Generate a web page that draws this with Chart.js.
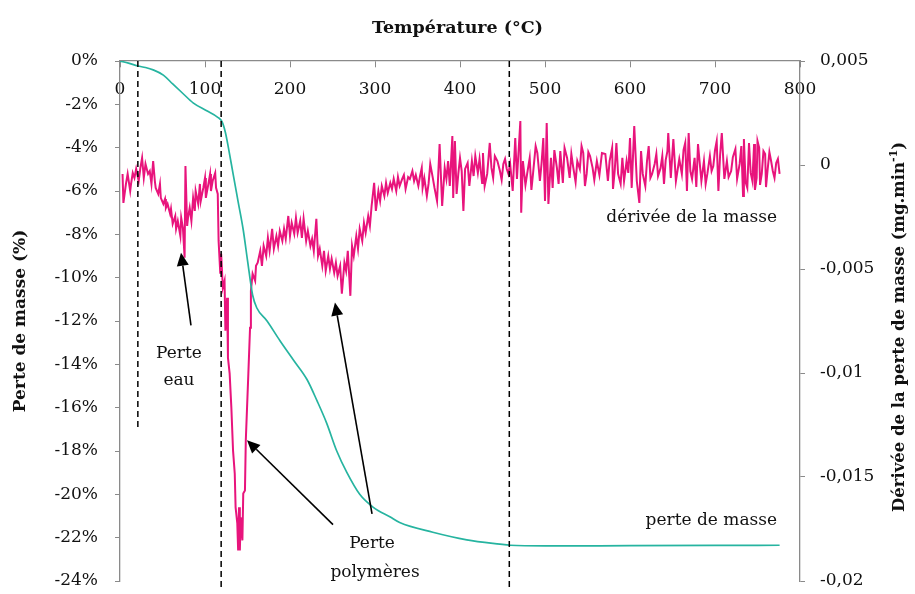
<!DOCTYPE html>
<html lang="fr">
<head>
<meta charset="utf-8">
<title>Perte de masse et dérivée</title>
<script src="https://cdn.jsdelivr.net/npm/chart.js@4.4.1/dist/chart.umd.min.js"></script>
<style>
  html, body { margin: 0; padding: 0; background: #fff; }
  #wrap { width: 915px; height: 594px; }
</style>
</head>
<body>
<div id="wrap"><canvas id="tga"></canvas></div>
<script>
// Mass loss curve (%), left axis
const massTemps = [0, 10, 21, 30, 39, 51, 62, 74, 86, 102,
  115, 120, 124, 128, 133, 139, 145, 150, 156, 161,
  173, 188, 204, 220, 232, 243, 255, 267, 282, 298,
  318, 329, 368, 408, 447, 459, 500, 600, 700, 776];
const massLoss = [0, -0.1, -0.23, -0.3, -0.41, -0.65, -1.06, -1.5, -1.93, -2.3,
  -2.6, -2.8, -3.3, -4.1, -5.2, -6.5, -7.8, -9.2, -10.8, -11.4,
  -12.0, -12.9, -13.8, -14.7, -15.7, -16.7, -18.0, -19.0, -20.0, -20.6,
  -21.05, -21.3, -21.75, -22.1, -22.3, -22.35, -22.38, -22.37, -22.36, -22.35];

// Derivative of the mass (mg/min), right axis
const derivTemps = [
  3, 4, 7, 9, 12, 13, 15, 17, 19, 22,
  24, 26, 28, 30, 33, 35, 37, 39, 41, 42,
  45, 47, 48, 51, 53, 54, 56, 59, 60, 62,
  65, 66, 68, 71, 72, 74, 76, 77, 79, 80,
  82, 84, 86, 88, 89, 92, 94, 95, 98, 100,
  101, 104, 106, 107, 109, 112, 113, 115, 116, 118,
  119, 121, 123, 124, 126, 127, 129, 131, 133, 135,
  136, 138, 139, 140, 141, 142, 144, 145, 147, 148,
  151, 153, 154, 156, 159, 160,
  162, 165, 167, 169, 172, 174, 176, 179, 181, 184,
  186, 188, 191, 193, 195, 198, 200, 202, 205, 207,
  209, 212, 214, 216, 219, 221, 224, 226, 228, 231,
  233, 235, 238, 240, 242, 245, 247, 249, 252, 254,
  256, 259, 261, 264, 266, 268, 271, 273, 275, 278,
  280, 282, 285, 287, 289, 292, 294, 296, 299, 301,
  304, 306, 308, 311, 313, 315, 318, 320, 322, 325,
  327, 329, 332, 334, 336, 339, 341, 344, 346, 348,
  351, 353,
  355, 356, 358, 361, 363, 365, 368, 370, 373, 376,
  379, 382, 384, 386, 388, 391, 392, 394, 396, 398,
  400, 402, 404, 406, 409, 411, 414, 416, 418, 421,
  423, 426, 427, 429, 432, 435, 437, 439, 441, 444,
  447, 449, 451, 453, 455, 457, 459, 462, 465, 467,
  471, 472, 474, 477, 479, 482, 484, 486, 489, 491,
  494, 496, 498, 500, 502, 504, 507, 509, 511, 514,
  516, 518, 521, 523, 526, 529, 531, 533, 536, 538,
  541, 543, 545, 547, 549, 551, 553, 556, 558, 561,
  564, 567,
  571, 574, 576, 579, 580, 582, 584, 586, 589, 591,
  593, 596, 598, 600, 602, 605, 608, 611, 613, 615,
  618, 620, 622, 624, 626, 629, 631, 633, 636, 638,
  640, 642, 644, 645, 648, 651, 654, 656, 658, 661,
  663, 665, 667, 669, 671, 673, 676, 678, 680, 682,
  684, 687, 689, 691, 694, 696, 698, 700, 702, 704,
  706, 708, 711, 714, 716, 719, 721, 724, 726, 729,
  731, 733, 734, 736, 738, 740, 742, 744, 746, 747,
  749, 750, 752, 753, 755, 757, 759, 760, 762, 764,
  766, 768, 770, 772, 774, 776];
const derivValues = [
  -0.00043, -0.00182, -0.00091, -0.00043, -0.00125, -0.00091, -0.00038, -0.00062, -0.00019, -0.00077,
  -0.00014, 0.00034, -0.00062, 0.00005, -0.00043, -0.00029, -0.00091, 0.00019, -0.00077, -0.00110,
  -0.00139, -0.00091, -0.00158, -0.00187, -0.00163, -0.00206, -0.00187, -0.00235, -0.00211, -0.00283,
  -0.00245, -0.00307, -0.00269, -0.00341, -0.00254, -0.00302, -0.00446, -0.00005, -0.00293, -0.00254,
  -0.00206, -0.00269, -0.00158, -0.00221, -0.00125, -0.00187, -0.00091, -0.00173, -0.00110, -0.00062,
  -0.00158, -0.00091, -0.00043, -0.00125, -0.00077, -0.00038, -0.00110, -0.00139, -0.00365, -0.00523,
  -0.00427, -0.00590, -0.00557, -0.00797, -0.00638, -0.00926, -0.01003, -0.01166, -0.01373, -0.01483,
  -0.01646, -0.01723, -0.01853, -0.01646, -0.01853, -0.01694, -0.01805, -0.01579, -0.01565, -0.01325,
  -0.01003, -0.00782, -0.00605, -0.00523, -0.00557, -0.00485,
  -0.00470, -0.00413, -0.00485, -0.00389, -0.00437, -0.00350, -0.00413, -0.00307, -0.00403, -0.00341,
  -0.00389, -0.00317, -0.00365, -0.00307, -0.00355, -0.00245, -0.00341, -0.00278, -0.00331, -0.00254,
  -0.00326, -0.00269, -0.00350, -0.00259, -0.00365, -0.00317, -0.00389, -0.00355, -0.00413, -0.00259,
  -0.00437, -0.00403, -0.00485, -0.00413, -0.00509, -0.00437, -0.00499, -0.00451, -0.00518, -0.00470,
  -0.00533, -0.00485, -0.00619, -0.00470, -0.00509, -0.00413, -0.00629, -0.00389, -0.00437, -0.00341,
  -0.00403, -0.00307, -0.00365, -0.00278, -0.00326, -0.00245, -0.00293, -0.00197, -0.00086, -0.00221,
  -0.00125, -0.00173, -0.00101, -0.00149, -0.00086, -0.00134, -0.00086, -0.00115, -0.00067, -0.00125,
  -0.00058, -0.00101, -0.00067, -0.00048, -0.00115, -0.00058, -0.00067, -0.00029, -0.00077, -0.00048,
  -0.00101, -0.00053,
  -0.00014, -0.00110, -0.00062, -0.00149, -0.00091, 0.00005, -0.00062, -0.00110, -0.00173, 0.00101,
  -0.00197, -0.00014, -0.00067, 0.00019, -0.00101, 0.00139, -0.00158, 0.00115, -0.00139, -0.00043,
  0.00034, -0.00029, -0.00221, -0.00019, 0.00010, -0.00101, 0.00019, -0.00053, 0.00043, -0.00038,
  0.00029, -0.00086, 0.00058, -0.00101, -0.00043, 0.00106, -0.00014, -0.00062, 0.00043, 0.00019,
  -0.00029, -0.00072, 0.00005, 0.00029, -0.00019, -0.00043, 0.00005, -0.00125, 0.00130, -0.00067,
  0.00211, -0.00230, 0.00019, -0.00096, -0.00043, 0.00034, -0.00120, -0.00038, 0.00091, 0.00058,
  -0.00077, 0.00010, 0.00130, -0.00173, 0.00202, -0.00187, 0.00034, -0.00110, 0.00072, -0.00014,
  -0.00091, 0.00067, -0.00086, 0.00082, 0.00034, -0.00062, 0.00053, -0.00005, -0.00082, 0.00019,
  -0.00019, 0.00091, 0.00058, -0.00101, -0.00043, 0.00062, 0.00043, -0.00014, -0.00072, 0.00019,
  -0.00048, 0.00058,
  0.00053, -0.00077, 0.00019, 0.00082, -0.00115, -0.00029, 0.00106, -0.00043, -0.00091, 0.00034,
  -0.00077, 0.00019, -0.00038, 0.00130, -0.00110, 0.00187, -0.00077, -0.00182, 0.00067, -0.00043,
  -0.00101, 0.00019, 0.00091, -0.00062, -0.00043, 0.00005, 0.00053, -0.00053, -0.00014, 0.00043,
  -0.00091, 0.00024, 0.00067, 0.00154, -0.00062, 0.00125, -0.00077, -0.00024, 0.00029, -0.00043,
  0.00072, 0.00106, -0.00125, 0.00154, -0.00029, -0.00067, 0.00034, -0.00106, 0.00101, 0.00010,
  -0.00077, 0.00019, -0.00091, -0.00043, 0.00043, -0.00029, -0.00005, 0.00072, 0.00115, -0.00125,
  0.00048, 0.00154, -0.00067, 0.00019, -0.00058, -0.00029, 0.00038, 0.00077, -0.00067, 0.00005,
  0.00091, -0.00149, 0.00125, -0.00082, -0.00110, 0.00106, -0.00038, -0.00077, 0.00101, -0.00120,
  -0.00062, 0.00115, 0.00082, -0.00096, -0.00043, 0.00067, 0.00053, -0.00106, -0.00019, 0.00062,
  0.00019, -0.00029, -0.00062, 0.00010, 0.00029, -0.00043];

// Dashed markers separating the steps (°C) and how far down they reach (%)
const markerTemps = [21, 119, 458];
const markerBottoms = [-16.9, -24.3, -24.3];

const SERIF = "'DejaVu Serif', serif";
const TEXT = '#111';
const AXIS_GRAY = '#8a8a8a';
const PINK = '#e8147c';
const TEAL = '#26b4a0';

const toPoints = (xs, ys) => xs.map((t, i) => ({ x: t, y: ys[i] }));
const frNumber = (v) => String(Number(v.toFixed(4))).replace('.', ',');

// Arrows, in-plot labels and the right axis title
const notesPlugin = {
  id: 'tgaNotes',
  afterDatasetsDraw(chart, args, opts) {
    const { ctx, chartArea } = chart;
    const xs = chart.scales.x, ys = chart.scales.y;
    ctx.save();
    ctx.strokeStyle = '#000';
    ctx.fillStyle = '#000';
    ctx.lineWidth = 1.6;
    opts.arrows.forEach(([t0, p0, t1, p1]) => {
      const x0 = xs.getPixelForValue(t0), y0 = ys.getPixelForValue(p0);
      const x1 = xs.getPixelForValue(t1), y1 = ys.getPixelForValue(p1);
      const ang = Math.atan2(y1 - y0, x1 - x0);
      const head = 13, half = 6;
      const bx = x1 - head * Math.cos(ang), by = y1 - head * Math.sin(ang);
      ctx.beginPath();
      ctx.moveTo(x0, y0);
      ctx.lineTo(bx, by);
      ctx.stroke();
      ctx.beginPath();
      ctx.moveTo(x1, y1);
      ctx.lineTo(bx + half * Math.sin(ang), by - half * Math.cos(ang));
      ctx.lineTo(bx - half * Math.sin(ang), by + half * Math.cos(ang));
      ctx.closePath();
      ctx.fill();
    });

    ctx.fillStyle = TEXT;
    ctx.font = `17px ${SERIF}`;
    ctx.textBaseline = 'middle';
    opts.labels.forEach((l) => {
      ctx.textAlign = l.align || 'center';
      ctx.fillText(l.text, xs.getPixelForValue(l.t), ys.getPixelForValue(l.v));
    });

    // right axis title with a superscript exponent, read bottom to top
    const main = 'Dérivée de la perte de masse (mg.min';
    const sup = '-1';
    const tail = ')';
    const bold = `bold 16.5px ${SERIF}`;
    const small = `bold 11px ${SERIF}`;
    ctx.font = bold;
    const wMain = ctx.measureText(main).width;
    const wTail = ctx.measureText(tail).width;
    ctx.font = small;
    const wSup = ctx.measureText(sup).width;
    const total = wMain + wSup + wTail;
    const cx = chart.width - 15;
    const cy = (chartArea.top + chartArea.bottom) / 2 + 6;
    ctx.translate(cx, cy);
    ctx.rotate(-Math.PI / 2);
    ctx.textAlign = 'left';
    let sx = -total / 2;
    ctx.font = bold;
    ctx.fillText(main, sx, 0);
    sx += wMain;
    ctx.font = small;
    ctx.fillText(sup, sx, -6);
    sx += wSup;
    ctx.font = bold;
    ctx.fillText(tail, sx, 0);
    ctx.restore();
  }
};

Chart.defaults.font.family = SERIF;
Chart.defaults.font.size = 17;
Chart.defaults.color = TEXT;

const markerSets = markerTemps.map((t, i) => ({
  data: [{ x: t, y: 0 }, { x: t, y: markerBottoms[i] }],
  borderColor: '#000',
  borderWidth: 1.5,
  borderDash: [6, 4],
  pointRadius: 0,
  clip: false,
  yAxisID: 'y'
}));

new Chart(document.getElementById('tga'), {
  type: 'line',
  data: {
    datasets: [
      ...markerSets,
      {
        label: 'perte de masse',
        data: toPoints(massTemps, massLoss),
        borderColor: TEAL,
        borderWidth: 1.7,
        pointRadius: 0,
        cubicInterpolationMode: 'monotone',
        yAxisID: 'y'
      },
      {
        label: 'dérivée de la masse',
        data: toPoints(derivTemps, derivValues),
        borderColor: PINK,
        borderWidth: 2,
        pointRadius: 0,
        tension: 0,
        yAxisID: 'y2'
      }
    ]
  },
  options: {
    responsive: true,
    maintainAspectRatio: false,
    animation: false,
    events: [],
    layout: { padding: { left: 0, right: 0, top: 0, bottom: 13 } },
    plugins: {
      legend: { display: false },
      tooltip: { enabled: false },
      title: {
        display: true,
        text: 'Température (°C)',
        color: TEXT,
        font: { family: SERIF, size: 17.5, weight: 'bold' },
        padding: { top: 18, bottom: 22 }
      },
      tgaNotes: {
        arrows: [
          [83.5, -12.2, 71.8, -8.85],
          [250.6, -21.4, 149.4, -17.5],
          [296.5, -20.9, 252.9, -11.15]
        ],
        labels: [
          { text: 'Perte', t: 69.4, v: -13.5 },
          { text: 'eau', t: 69.4, v: -14.75 },
          { text: 'Perte', t: 296.5, v: -22.26 },
          { text: 'polymères', t: 300, v: -23.6 },
          { text: 'dérivée de la masse', t: 773, v: -7.23, align: 'right' },
          { text: 'perte de masse', t: 773, v: -21.2, align: 'right' }
        ]
      }
    },
    scales: {
      x: {
        type: 'linear',
        position: { y: 0 },
        min: 0,
        max: 800,
        ticks: { stepSize: 100, padding: 12, maxRotation: 0, color: TEXT },
        grid: { drawOnChartArea: false, tickLength: 6, color: AXIS_GRAY },
        border: { color: AXIS_GRAY, width: 1.3 },
        afterFit: (s) => { s.paddingLeft = 0; s.paddingRight = 0; }
      },
      y: {
        position: 'left',
        min: -24,
        max: 0,
        ticks: { stepSize: 2, padding: 17, color: TEXT, callback: (v) => `${v}%` },
        grid: { drawOnChartArea: false, tickLength: 5, color: AXIS_GRAY },
        border: { color: AXIS_GRAY, width: 1.3 },
        title: {
          display: true,
          text: 'Perte de masse (%)',
          color: TEXT,
          font: { family: SERIF, size: 17, weight: 'bold' },
          padding: { top: 10, bottom: 0 }
        },
        afterFit: (s) => { s.width = 120; s.paddingTop = 0; s.paddingBottom = 0; }
      },
      y2: {
        position: 'right',
        min: -0.02,
        max: 0.005,
        ticks: { stepSize: 0.005, padding: 15, color: TEXT, callback: (v) => frNumber(v) },
        grid: { drawOnChartArea: false, tickLength: 5, color: AXIS_GRAY },
        border: { color: AXIS_GRAY, width: 1.3 },
        afterFit: (s) => { s.width = 115; s.paddingTop = 0; s.paddingBottom = 0; }
      }
    }
  },
  plugins: [notesPlugin]
});
</script>
</body>
</html>
